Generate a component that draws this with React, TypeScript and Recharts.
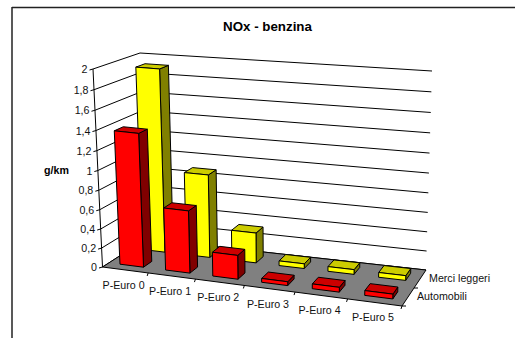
import { Bar, BarChart, CartesianGrid, Customized, XAxis, YAxis } from 'recharts'

const categories = ['P-Euro 0', 'P-Euro 1', 'P-Euro 2', 'P-Euro 3', 'P-Euro 4', 'P-Euro 5']
const automobili = [1.38, 0.65, 0.25, 0.04, 0.05, 0.05]
const merciLeggeri = [1.92, 0.88, 0.32, 0.05, 0.05, 0.05]
const valueTicks = [0, 0.2, 0.4, 0.6, 0.8, 1, 1.2, 1.4, 1.6, 1.8, 2]
const seriesNames = ['Automobili', 'Merci leggeri']

const data = categories.map((name, i) => ({ name, automobili: automobili[i], merciLeggeri: merciLeggeri[i] }))

const W = 515
const H = 338
// the axes need 1px each to render, so the flat plot starts at x=1 and ends 1px short of the bottom
const PW = W - 1
const PH = H - 1
const FONT = '"Liberation Sans", Arial, sans-serif'
const BAND = PW / categories.length
const BAR = BAND * 0.52

type Pt = [number, number]

// screen corners of the box: F/B front/back, L/R left/right, 0/2 floor/top
const FL0: Pt = [102.5, 267]
const FR0: Pt = [402, 306]
const BL0: Pt = [146, 239]
const BR0: Pt = [426, 270]
const FL2: Pt = [93, 69]
const FR2: Pt = [409, 102]
const BL2: Pt = [140, 53]
const BR2: Pt = [432, 71]

const persp = (t: number, c: number) => (c * t) / (1 + (c - 1) * t)
const mix = (a: Pt, b: Pt, t: number): Pt => [a[0] + (b[0] - a[0]) * t, a[1] + (b[1] - a[1]) * t]

// u along categories, v into the page, h up; all 0..1
function project(u: number, v: number, h: number): Pt {
  const uu = persp(u, 0.9)
  const hh = persp(h, 0.95)
  const floor = mix(mix(FL0, FR0, uu), mix(BL0, BR0, uu), v)
  const top = mix(mix(FL2, FR2, uu), mix(BL2, BR2, uu), v)
  return mix(floor, top, hh)
}

const toU = (x: number) => (x - 1) / PW
const toH = (y: number) => (PH - y) / PH

const pts = (list: Pt[]) => list.map(p => `${p[0].toFixed(2)},${p[1].toFixed(2)}`).join(' ')

interface BoxProps {
  x?: number
  y?: number
  width?: number
  depth: [number, number]
  front: string
  top: string
  side: string
}

function Box3D({ x = 0, y = 0, width = 0, depth, front, top, side }: BoxProps) {
  const u0 = toU(x)
  const u1 = toU(x + width)
  const h = toH(y)
  const [v0, v1] = depth
  const common = { stroke: '#000', strokeWidth: 1, strokeLinejoin: 'round' as const }
  return (
    <g>
      <polygon {...common} fill={side} points={pts([project(u1, v0, 0), project(u1, v1, 0), project(u1, v1, h), project(u1, v0, h)])} />
      <polygon {...common} fill={top} points={pts([project(u0, v0, h), project(u1, v0, h), project(u1, v1, h), project(u0, v1, h)])} />
      <polygon {...common} fill={front} points={pts([project(u0, v0, 0), project(u1, v0, 0), project(u1, v0, h), project(u0, v0, h)])} />
    </g>
  )
}

function WallLine({ y1 = 0 }: { y1?: number }) {
  const h = toH(y1)
  return (
    <polyline
      fill="none"
      stroke="#000"
      strokeWidth={1}
      points={pts([project(0, 0, h), project(0, 1, h), project(1, 1, h)])}
    />
  )
}

function CategoryTick({ payload, index = 0 }: { payload?: { coordinate: number; value: string }; index?: number }) {
  const c = payload?.coordinate ?? 0
  const [ax, ay] = project(toU(c), 0, 0)
  const end = project(toU(c + BAND / 2), 0, 0)
  return (
    <g>
      <line x1={end[0]} y1={end[1]} x2={end[0] - 1} y2={end[1] + 3} stroke="#000" strokeWidth={1} />
      <text x={ax - 1.5} y={ay + 19} textAnchor="middle" fontFamily={FONT} fontSize={10.67} fill="#111">
        {categories[index]}
      </text>
    </g>
  )
}

function ValueTick({ payload }: { payload?: { coordinate: number; value: number } }) {
  const c = payload?.coordinate ?? 0
  const [ax, ay] = project(0, 0, toH(c))
  return (
    <g>
      <line x1={ax} y1={ay} x2={ax - 3.5} y2={ay + 1} stroke="#000" strokeWidth={1} />
      <text x={ax - 5.5} y={ay + 4} textAnchor="end" fontFamily={FONT} fontSize={10.67} fill="#111">
        {String(payload?.value ?? '').replace('.', ',')}
      </text>
    </g>
  )
}

function Backdrop() {
  const labelPos: Pt[] = [[417, 300], [429, 282]]
  return (
    <g>
      <line x1={12} y1={7.5} x2={W} y2={7.5} stroke="#222" strokeWidth={1.5} />
      <line x1={12} y1={7} x2={12} y2={H} stroke="#222" strokeWidth={1.5} />
      <polygon points={pts([FL0, FR0, BR0, BL0])} fill="#808080" stroke="#000" strokeWidth={1} />
      <line x1={FL0[0]} y1={FL0[1]} x2={FL2[0]} y2={FL2[1]} stroke="#000" strokeWidth={1} />
      <line x1={FR0[0]} y1={FR0[1]} x2={FR0[0] + 4} y2={FR0[1]} stroke="#000" strokeWidth={1} />
      <line x1={414} y1={288} x2={418} y2={288} stroke="#000" strokeWidth={1} />
      {seriesNames.map((name, i) => (
        <text key={name} x={labelPos[i][0]} y={labelPos[i][1]} fontFamily={FONT} fontSize={10.67} fill="#111">
          {name}
        </text>
      ))}
      <text x={267.5} y={31} textAnchor="middle" fontFamily={FONT} fontSize={13.33} fontWeight="bold" fill="#000">
        NOx - benzina
      </text>
      <text x={44} y={174} fontFamily={FONT} fontSize={10.67} fontWeight="bold" fill="#000">
        g/km
      </text>
    </g>
  )
}

export default function App() {
  return (
    <div style={{ position: 'absolute', left: 0, top: 0, width: W, height: H, background: '#fff' }}>
      <BarChart
        width={W}
        height={H}
        data={data}
        margin={{ top: 0, right: 0, bottom: 0, left: 0 }}
        barSize={BAR}
        barGap={-BAR}
      >
        <Customized component={Backdrop} />
        <CartesianGrid vertical={false} horizontal={(p: { y1?: number; key?: string }) => <WallLine key={p.key} y1={p.y1} />} />
        <XAxis dataKey="name" height={1} axisLine={false} tickLine={false} interval={0} tick={(p: any) => <CategoryTick {...p} />} />
        <YAxis width={1} domain={[0, 2]} ticks={valueTicks} axisLine={false} tickLine={false} interval={0} tick={(p: any) => <ValueTick {...p} />} />
        <Bar
          dataKey="merciLeggeri"
          isAnimationActive={false}
          shape={(p: any) => <Box3D x={p.x} y={p.y} width={p.width} depth={[0.67, 0.87]} front="#FFFF00" top="#CCCC00" side="#808000" />}
        />
        <Bar
          dataKey="automobili"
          isAnimationActive={false}
          shape={(p: any) => <Box3D x={p.x} y={p.y} width={p.width} depth={[0.15, 0.35]} front="#FF0000" top="#CC0000" side="#800000" />}
        />
      </BarChart>
    </div>
  )
}
